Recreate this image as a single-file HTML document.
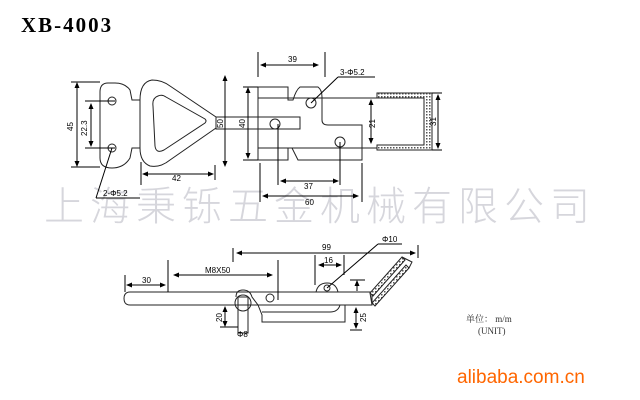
<!DOCTYPE html>
<html><head><meta charset="utf-8"><style>
html,body{margin:0;padding:0;background:#fff;}
svg{display:block}
</style></head><body>
<svg width="640" height="400" viewBox="0 0 640 400" xmlns="http://www.w3.org/2000/svg" style="font-family:'Liberation Sans',sans-serif">
<defs>
<marker id="a" markerWidth="6" markerHeight="6" refX="5" refY="3" orient="auto-start-reverse"><path d="M0,0.5 L6,3 L0,5.5 z" fill="#000"/></marker>
<pattern id="h" width="3" height="3" patternUnits="userSpaceOnUse"><rect width="3" height="3" fill="#fff"/><rect width="1.5" height="1.5" fill="#555"/></pattern>
</defs>

<!-- watermark -->
<text x="44" y="220" style="font-family:'Noto Sans CJK SC',sans-serif;font-weight:300" font-size="40" fill="#d6d6dc" letter-spacing="6">上海秉铄五金机械有限公司</text>

<!-- title -->
<text x="21" y="32" style="font-family:'Liberation Serif',serif;font-weight:bold" font-size="21" fill="#000" letter-spacing="2">XB-4003</text>

<g fill="none" stroke="#222" stroke-width="1">
<path d="M108,83 Q100,83 100,92 L100,158 Q100,168 112,168 Q124,168 130,158 L132,148 L140,148 L140,100 L132,100 L130,90 Q125,83 115,83 Z"/>
<circle cx="112" cy="101" r="4"/><circle cx="112" cy="148" r="4"/>
<path d="M140,100 Q140,82 152,80 Q162,80 170,86 L216,117 L216,128 L170,160 Q160,168 150,166 Q140,162 140,148 Z"/>
<path d="M158,96 Q152,98 153,106 L155,146 Q156,154 164,150 L205,123 Q207,121 205,119 L166,97 Q162,94 158,96 Z"/>
<rect x="216" y="117" width="84" height="12"/>
<path d="M258,87 L288,87 L288,100 L293,100 Q296,90 300,87 L318,87 Q322,90 322,97 L322,120 Q322,125 328,125 L362,125 L362,160 L298,160 Q294,152 292,148 L288,148 L288,160 L258,160 Z"/>
<line x1="258" y1="98" x2="430" y2="98"/>
<line x1="258" y1="148" x2="430" y2="148"/>
<circle cx="311" cy="103" r="5"/><circle cx="275" cy="124" r="5"/><circle cx="340" cy="142" r="5"/>
<path d="M377,93 L432,93 L432,150 L377,150 L377,145 L424,145 L424,98 L377,98 Z" fill="url(#h)"/>
</g>

<g stroke="#000" stroke-width="1" fill="none">
<line x1="77" y1="83" x2="77" y2="166" marker-start="url(#a)" marker-end="url(#a)"/>
<line x1="71" y1="82" x2="100" y2="82"/><line x1="71" y1="167" x2="100" y2="167"/>
<line x1="91" y1="104" x2="91" y2="146" marker-start="url(#a)" marker-end="url(#a)"/>
<line x1="85" y1="101" x2="115" y2="101"/><line x1="85" y1="148" x2="115" y2="148"/>
<line x1="225" y1="76" x2="225" y2="166" marker-start="url(#a)" marker-end="url(#a)"/>
<line x1="248" y1="88" x2="248" y2="158" marker-start="url(#a)" marker-end="url(#a)"/>
<line x1="243" y1="87" x2="258" y2="87"/><line x1="243" y1="160" x2="258" y2="160"/>
<line x1="261" y1="65" x2="318" y2="65" marker-start="url(#a)" marker-end="url(#a)"/>
<line x1="258" y1="52" x2="258" y2="77"/><line x1="325" y1="52" x2="325" y2="77"/>
<line x1="143" y1="174" x2="213" y2="174" marker-start="url(#a)" marker-end="url(#a)"/>
<line x1="141" y1="162" x2="141" y2="185"/><line x1="215" y1="165" x2="215" y2="180"/>
<line x1="281" y1="181" x2="338" y2="181" marker-start="url(#a)" marker-end="url(#a)"/>
<line x1="278" y1="124" x2="278" y2="185"/><line x1="340" y1="142" x2="340" y2="185"/>
<line x1="263" y1="196" x2="358" y2="196" marker-start="url(#a)" marker-end="url(#a)"/>
<line x1="260" y1="163" x2="260" y2="202"/><line x1="362" y1="163" x2="362" y2="202"/>
<line x1="371" y1="100" x2="371" y2="143" marker-start="url(#a)" marker-end="url(#a)"/>
<line x1="438" y1="95" x2="438" y2="148" marker-start="url(#a)" marker-end="url(#a)"/>
<line x1="432" y1="93" x2="442" y2="93"/><line x1="432" y1="150" x2="442" y2="150"/>
<line x1="311" y1="103" x2="338" y2="77"/><line x1="338" y1="77" x2="375" y2="77"/>
<line x1="112" y1="148" x2="96" y2="198"/><line x1="96" y1="198" x2="140" y2="198"/>
</g>
<g font-size="8" fill="#000">
<text x="288" y="62">39</text>
<text x="340" y="75">3-Φ5.2</text>
<text x="172" y="181">42</text>
<text x="304" y="189">37</text>
<text x="305" y="205">60</text>
<text x="103" y="196">2-Φ5.2</text>
<text transform="translate(73,131) rotate(-90)">45</text>
<text transform="translate(87,136) rotate(-90)">22.3</text>
<text transform="translate(223,128) rotate(-90)">50</text>
<text transform="translate(245,128) rotate(-90)">40</text>
<text transform="translate(375,128) rotate(-90)">21</text>
<text transform="translate(436,126) rotate(-90)">31</text>
</g>

<g fill="none" stroke="#222" stroke-width="1">
<path d="M130,292 L372,292 L372,305 L130,305 Q124,305 124,298.5 Q124,292 130,292 Z"/>
<path d="M236,297 Q236,290 243,290 Q250,290 252,297 L258,305 L262,315 L262,322 L345,322 L345,305"/>
<path d="M262,312 L330,312 Q338,312 340,305"/>
<circle cx="243" cy="303" r="8"/>
<rect x="238" y="297" width="10" height="36"/>
<circle cx="270" cy="298" r="4"/>
<path d="M316,292 Q318,283 327,283 Q336,283 338,292"/>
<circle cx="327" cy="288" r="3"/>
<path d="M370,293 L402,257 L405,260 L373,296 Z" fill="url(#h)"/>
<path d="M372,303 L406,265 L409,268 L375,306 Z" fill="url(#h)"/>
<path d="M402,257 L412,262 L409,268"/>
<line x1="370" y1="293" x2="372" y2="305"/>
</g>
<g stroke="#000" stroke-width="1" fill="none">
<line x1="127" y1="285" x2="165" y2="285" marker-start="url(#a)" marker-end="url(#a)"/>
<line x1="125" y1="275" x2="125" y2="292"/><line x1="168" y1="260" x2="168" y2="292"/>
<line x1="174" y1="275" x2="272" y2="275" marker-start="url(#a)" marker-end="url(#a)"/>
<line x1="278" y1="260" x2="278" y2="300"/>
<line x1="237" y1="253" x2="415" y2="253" marker-start="url(#a)" marker-end="url(#a)"/>
<line x1="233" y1="248" x2="233" y2="262"/><line x1="418" y1="245" x2="418" y2="258"/>
<line x1="319" y1="265" x2="341" y2="265" marker-start="url(#a)" marker-end="url(#a)"/>
<line x1="315" y1="255" x2="315" y2="285"/><line x1="344" y1="255" x2="344" y2="275"/>
<line x1="225" y1="307" x2="225" y2="326" marker-start="url(#a)" marker-end="url(#a)"/>
<line x1="220" y1="327" x2="238" y2="327"/>
<line x1="356" y1="308" x2="356" y2="328" marker-start="url(#a)" marker-end="url(#a)"/>
<line x1="350" y1="330" x2="362" y2="330"/>
<line x1="357" y1="291" x2="357" y2="281" marker-end="url(#a)"/>
<line x1="350" y1="280" x2="365" y2="280"/>
<line x1="327" y1="288" x2="378" y2="244"/><line x1="378" y1="244" x2="402" y2="244"/>
</g>
<g font-size="8" fill="#000">
<text x="142" y="283">30</text>
<text x="205" y="273">M8X50</text>
<text x="322" y="250">99</text>
<text x="324" y="263">16</text>
<text x="382" y="242">Φ10</text>
<text x="237" y="337">Φ8</text>
<text transform="translate(222,322) rotate(-90)">20</text>
<text transform="translate(366,322) rotate(-90)">25</text>
</g>

<text x="466" y="322" style="font-family:'Liberation Serif','Noto Serif CJK SC',serif" font-size="9" fill="#333">单位： m/m</text>
<text x="478" y="334" style="font-family:'Liberation Serif',serif" font-size="9" fill="#333">(UNIT)</text>

<text x="457" y="383" font-size="19" fill="#ff6600">alibaba.com.cn</text>
</svg>
</body></html>
